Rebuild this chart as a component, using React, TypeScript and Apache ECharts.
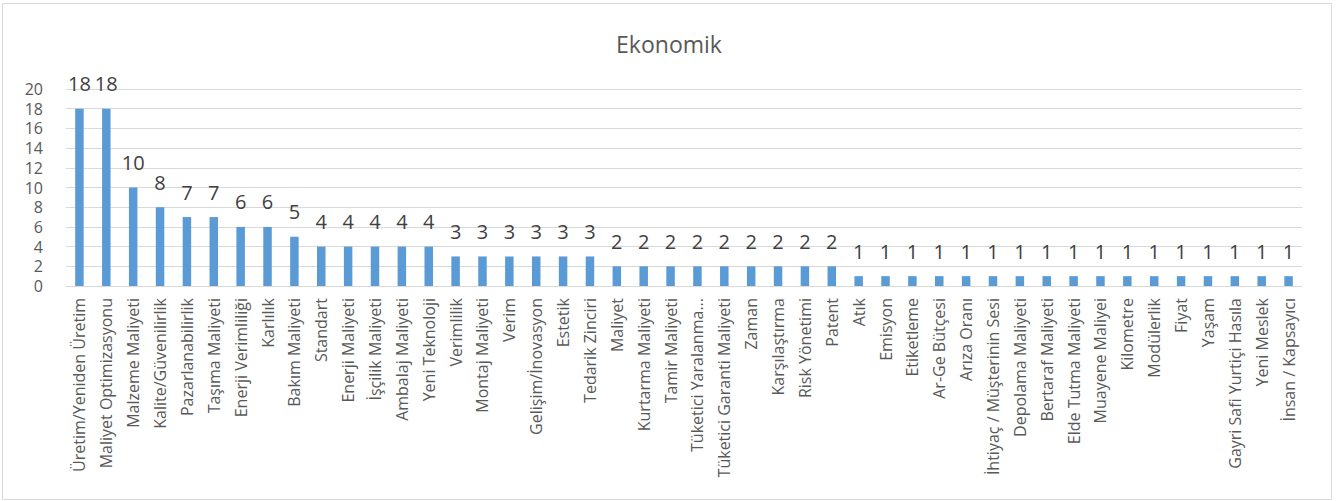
import React, { useEffect, useRef } from "react";
import * as echarts from "echarts";

const categories = [
  "Üretim/Yeniden Üretim",
  "Maliyet Optimizasyonu",
  "Malzeme Maliyeti",
  "Kalite/Güvenilirlik",
  "Pazarlanabilirlik",
  "Taşıma Maliyeti",
  "Enerji Verimliliği",
  "Karlılık",
  "Bakım Maliyeti",
  "Standart",
  "Enerji Maliyeti",
  "İşçilik Maliyeti",
  "Ambalaj Maliyeti",
  "Yeni Teknoloji",
  "Verimlilik",
  "Montaj Maliyeti",
  "Verim",
  "Gelişim/İnovasyon",
  "Estetik",
  "Tedarik Zinciri",
  "Maliyet",
  "Kurtarma Maliyeti",
  "Tamir Maliyeti",
  "Tüketici Yaralanma...",
  "Tüketici Garanti Maliyeti",
  "Zaman",
  "Karşılaştırma",
  "Risk Yönetimi",
  "Patent",
  "Atık",
  "Emisyon",
  "Etiketleme",
  "Ar-Ge Bütçesi",
  "Arıza Oranı",
  "İhtiyaç / Müşterinin Sesi",
  "Depolama Maliyeti",
  "Bertaraf Maliyeti",
  "Elde Tutma Maliyeti",
  "Muayene Maliyei",
  "Kilometre",
  "Modülerlik",
  "Fiyat",
  "Yaşam",
  "Gayri Safi Yurtiçi Hasıla",
  "Yeni Meslek",
  "İnsan / Kapsayıcı",
];

const values = [
  18, 18, 10, 8, 7, 7, 6, 6, 5, 4, 4, 4, 4, 4, 3, 3, 3, 3, 3, 3, 2, 2, 2, 2, 2, 2,
  2, 2, 2, 1, 1, 1, 1, 1, 1, 1, 1, 1, 1, 1, 1, 1, 1, 1, 1, 1,
];

const title = "Ekonomik";

export default function App() {
  const ref = useRef<HTMLDivElement>(null);

  useEffect(() => {
    if (!ref.current) return;
    const chart = echarts.init(ref.current, null, { renderer: "svg" });
    const font = "'Open Sans', 'DejaVu Sans', sans-serif";
    chart.setOption({
      animation: false,
      backgroundColor: "#ffffff",
      textStyle: { fontFamily: font },
      title: {
        text: title,
        left: "center",
        top: 27,
        textStyle: {
          fontFamily: font,
          fontSize: 23,
          fontWeight: "normal",
          color: "#595959",
        },
      },
      graphic: [
        {
          type: "rect",
          shape: { x: 2.5, y: 3.5, width: 1329, height: 496 },
          style: { fill: "none", stroke: "#d9d9d9", lineWidth: 1 },
          silent: true,
        },
      ],
      grid: { left: 66, right: 36, top: 89, bottom: 215, containLabel: false },
      xAxis: {
        type: "category",
        data: categories,
        axisLine: { show: true, lineStyle: { color: "#d9d9d9", width: 1 } },
        axisTick: { show: false },
        axisLabel: {
          rotate: 90,
          interval: 0,
          fontSize: 16,
          color: "#595959",
          margin: 12,
          fontFamily: font,
        },
      },
      yAxis: {
        type: "value",
        min: 0,
        max: 20,
        interval: 2,
        axisLine: { show: false },
        axisTick: { show: false },
        axisLabel: {
          fontSize: 16,
          lineHeight: 16,
          color: "#595959",
          margin: 23,
          fontFamily: font,
        },
        splitLine: { lineStyle: { color: "#d9d9d9", width: 1 } },
      },
      series: [
        {
          type: "bar",
          data: values,
          barWidth: 8.5,
          itemStyle: { color: "#5b9bd5" },
          label: {
            show: true,
            position: "top",
            distance: 15,
            fontSize: 20,
            color: "#404040",
            fontFamily: font,
          },
        },
      ],
    });
    return () => chart.dispose();
  }, []);

  return (
    <div
      ref={ref}
      style={{ position: "absolute", left: 0, top: 0, width: 1338, height: 501 }}
    />
  );
}
